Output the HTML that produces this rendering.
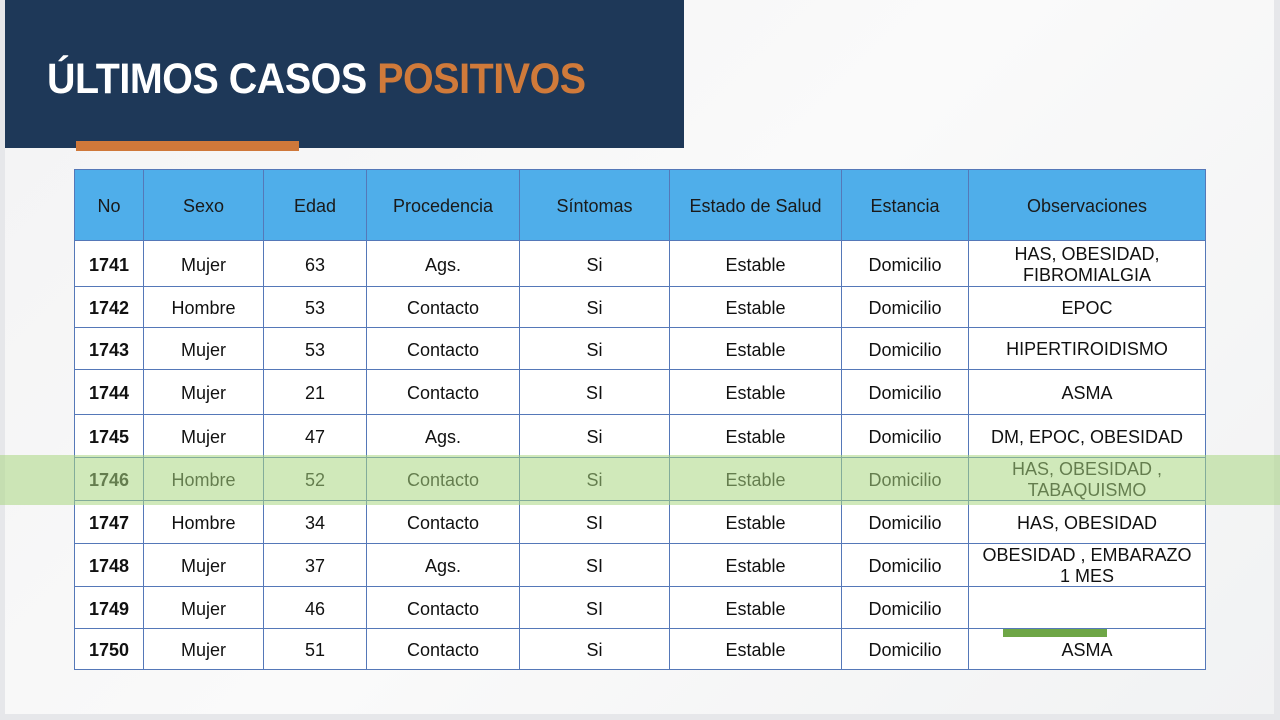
<!DOCTYPE html>
<html><head><meta charset="utf-8"><style>
body{margin:0;width:1280px;height:720px;background:#e6e7ea;position:relative;overflow:hidden;font-family:"Liberation Sans",Arial,sans-serif}
#slide{position:absolute;left:5px;top:0;width:1269px;height:714px;background:linear-gradient(135deg,#f3f3f4 0%,#fafafa 50%,#f1f2f3 100%)}
#hdr{position:absolute;left:5px;top:0;width:679px;height:148px;background:#1e3858}
#title{position:absolute;left:47px;top:55px;font-size:43px;font-weight:bold;color:#fff;letter-spacing:-0.5px;transform:scaleX(0.917);transform-origin:left;white-space:nowrap}
#title span{color:#d07a3a}
#obar{position:absolute;left:76px;top:141px;width:223px;height:10px;background:#cf783a}
.c{position:absolute;display:flex;align-items:center;justify-content:center;text-align:center;box-sizing:border-box;border-right:1px solid #5578b8;border-bottom:1px solid #5578b8;font-size:18px;color:#111;line-height:20px;background:#fff;padding-top:2px}
.h{background:#4faeea;color:#1a1a1a}
.b{font-weight:bold}
#band{position:absolute;left:0;top:455px;width:1280px;height:50px;background:rgba(170,215,130,0.55)}
#gbar{position:absolute;left:1003px;top:629px;width:104px;height:8px;background:#6ea646}
</style></head><body>
<div id="slide"></div>
<div id="hdr"></div>
<div id="title">ÚLTIMOS CASOS <span>POSITIVOS</span></div>
<div id="obar"></div>
<div id="tbl" style="position:absolute;left:0;top:0"></div>
<div id="band"></div>
<div id="gbar"></div>
<script>
var xs=[74,144,264,367,520,670,842,969,1206];
var ys=[169,241,287,328,370,415,458,501,544,587,629,670];
var rows=[["No","Sexo","Edad","Procedencia","Síntomas","Estado de Salud","Estancia","Observaciones"],
["1741","Mujer","63","Ags.","Si","Estable","Domicilio","HAS, OBESIDAD,<br>FIBROMIALGIA"],
["1742","Hombre","53","Contacto","Si","Estable","Domicilio","EPOC"],
["1743","Mujer","53","Contacto","Si","Estable","Domicilio","HIPERTIROIDISMO"],
["1744","Mujer","21","Contacto","SI","Estable","Domicilio","ASMA"],
["1745","Mujer","47","Ags.","Si","Estable","Domicilio","DM, EPOC, OBESIDAD"],
["1746","Hombre","52","Contacto","Si","Estable","Domicilio","HAS, OBESIDAD ,<br>TABAQUISMO"],
["1747","Hombre","34","Contacto","SI","Estable","Domicilio","HAS, OBESIDAD"],
["1748","Mujer","37","Ags.","SI","Estable","Domicilio","OBESIDAD , EMBARAZO<br>1 MES"],
["1749","Mujer","46","Contacto","SI","Estable","Domicilio",""],
["1750","Mujer","51","Contacto","Si","Estable","Domicilio","ASMA"]];
var h="";
for(var r=0;r<rows.length;r++)for(var c=0;c<8;c++){
var st="left:"+xs[c]+"px;top:"+ys[r]+"px;width:"+(xs[c+1]-xs[c])+"px;height:"+(ys[r+1]-ys[r])+"px;";
if(c==0)st+="border-left:1px solid #5578b8;";if(r==0)st+="border-top:1px solid #5578b8;";
if(r>0&&c==7)st+="line-height:21px;";
var cl="c"+(r==0?" h":"")+(r>0&&c==0?" b":"");
h+='<div class="'+cl+'" style="'+st+'">'+rows[r][c]+'</div>';}
document.getElementById("tbl").innerHTML=h;
</script>
</body></html>
